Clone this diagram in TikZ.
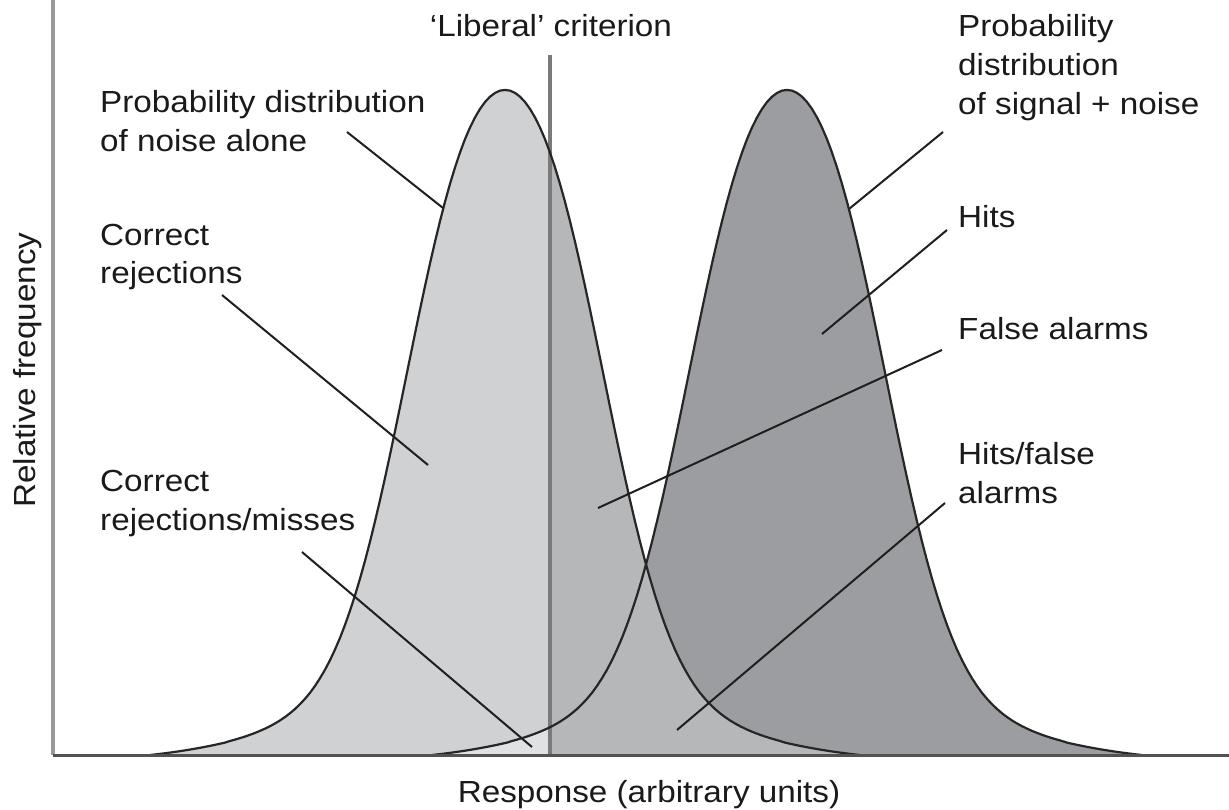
\documentclass[tikz,border=0pt]{standalone}
\usepackage{fontspec}
\setmainfont{Liberation Sans}[FakeStretch=1.09]
\definecolor{lightg}{HTML}{D0D1D3}
\definecolor{lighterg}{HTML}{E0E1E3}
\definecolor{midg}{HTML}{B6B7B9}
\definecolor{darkg}{HTML}{9C9DA0}
\definecolor{txt}{HTML}{1A1A1A}
\begin{document}
\begin{tikzpicture}[x=1pt,y=-1pt,
  declare function={gg(\u)=0.85*exp(-1.17*\u*\u)*(1+0.68*\u*\u)+0.15*exp(-(\u*\u)/4.805);
                    hh(\u)=(gg(\u)-0.0109)/0.9891;},
  lbl/.style={font=\fontsize{30.5}{39}\selectfont, text=txt, inner sep=0pt, align=left, anchor=base west},
  leader/.style={draw=black!88, line width=2pt},
  curve/.style={draw=black!85, line width=2.2pt, line join=round},
  crit/.style={draw=black!52, line width=4.5pt},
  yaxis/.style={draw=black!40, line width=4pt},
  xaxis/.style={draw=black!68, line width=3pt}
]
\useasboundingbox (0,0) rectangle (1229,810);
\fill[white] (0,0) rectangle (1229,810);

% fills right of criterion
\begin{scope}
  \clip (550,0) rectangle (1229,755);
  \fill[darkg] plot[domain=-3.55:3.55,samples=143] ({787+100*\x},{755-665*hh(\x)}) -- cycle;
  \fill[midg] plot[domain=-3.55:3.55,samples=143] ({505+100*\x},{755-665*hh(\x)}) -- cycle;
\end{scope}
% fills left of criterion
\begin{scope}
  \clip (53,0) rectangle (550,755);
  \fill[lightg] plot[domain=-3.55:3.55,samples=143] ({505+100*\x},{755-665*hh(\x)}) -- cycle;
  \fill[lighterg] plot[domain=-3.55:3.55,samples=143] ({787+100*\x},{755-665*hh(\x)}) -- cycle;
\end{scope}

% criterion
\coordinate (crtop) at (550,55);
\coordinate (crbot) at (550,755);
\draw[crit] (crtop) -- (crbot);

% curve outlines
\draw[curve] plot[domain=-3.55:3.55,samples=143] ({505+100*\x},{755-665*hh(\x)});
\draw[curve] plot[domain=-3.55:3.55,samples=143] ({787+100*\x},{755-665*hh(\x)});

% axes
\coordinate (ytop) at (53,0);
\coordinate (orig) at (53,755);
\coordinate (xend) at (1229,755);
\draw[yaxis] (ytop) -- (orig);
\draw[xaxis] (orig) -- (xend);

% labels (anchor = baseline of the last line)
\node[lbl] (noiselbl) at (100,152) {Probability distribution\\of noise alone};
\node[lbl] (crlbl) at (100,284) {Correct\\rejections};
\node[lbl] (crmlbl) at (100,530) {Correct\\rejections/misses};
\node[lbl] (siglbl) at (958,115) {Probability\\distribution\\of signal + noise};
\node[lbl] (hitslbl) at (958,228) {Hits};
\node[lbl] (falbl) at (958,340) {False alarms};
\node[lbl] (hfalbl) at (958,503) {Hits/false\\alarms};
\node[lbl, anchor=base] (critlbl) at (551,37) {‘Liberal’ criterion};
\node[lbl, anchor=base] (xlbl) at (649,802) {Response (arbitrary units)};
\node[lbl, anchor=base, rotate=90] (ylbl) at (35,370) {Relative frequency};

% leader lines
\coordinate (a1) at (347,132);  \coordinate (b1) at (443,208);
\coordinate (a2) at (222,295);  \coordinate (b2) at (428,465);
\coordinate (a3) at (302,552);  \coordinate (b3) at (532,747);
\coordinate (a4) at (943,132);  \coordinate (b4) at (849,209);
\coordinate (a5) at (947,230);  \coordinate (b5) at (822,334);
\coordinate (a6) at (942,350);  \coordinate (b6) at (598,508);
\coordinate (a7) at (945,503);  \coordinate (b7) at (677,730);
\draw[leader] (a1) -- (b1);
\draw[leader] (a2) -- (b2);
\draw[leader] (a3) -- (b3);
\draw[leader] (a4) -- (b4);
\draw[leader] (a5) -- (b5);
\draw[leader] (a6) -- (b6);
\draw[leader] (a7) -- (b7);
\end{tikzpicture}
\end{document}
